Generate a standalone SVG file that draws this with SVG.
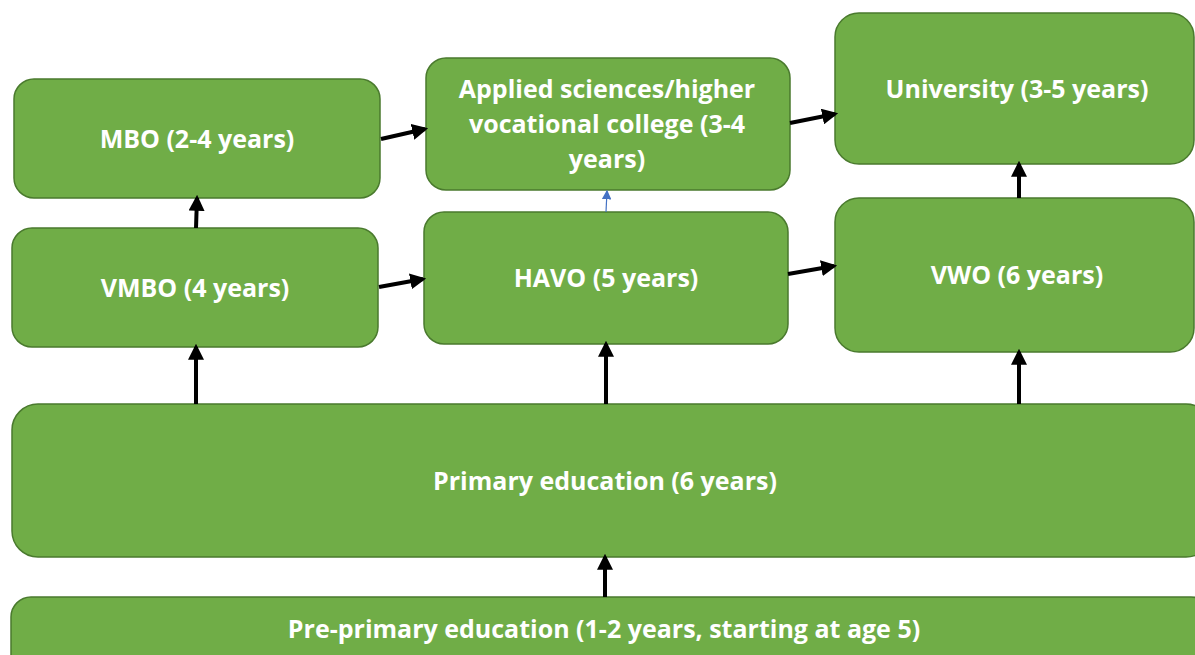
<svg xmlns="http://www.w3.org/2000/svg" width="1195" height="655" viewBox="0 0 1195 655">
<style>
.box{fill:#70AD47;stroke:#4a7a2e;stroke-width:1.5}
.t{font-family:"Open Sans","Noto Sans","Liberation Sans",sans-serif;font-weight:bold;font-size:25px;fill:#ffffff;text-anchor:middle}
.c{stroke:#000;stroke-width:4;fill:none;marker-end:url(#ah)}
.b{stroke:#4472C4;stroke-width:1.2;fill:none;marker-end:url(#bh)}
</style>
<defs>
<marker id="ah" markerWidth="4" markerHeight="4" refX="3.2" refY="2" orient="auto" markerUnits="strokeWidth" viewBox="0 0 4 4">
<path d="M0,0 L4,2 L0,4 Z" fill="#000"/>
</marker>
<marker id="bh" markerWidth="8" markerHeight="8" refX="7" refY="4" orient="auto" markerUnits="strokeWidth" viewBox="0 0 8 8">
<path d="M0,0 L8,4 L0,8 Z" fill="#4472C4"/>
</marker>
</defs>
<rect width="1195" height="655" fill="#ffffff"/>
<g id="mbo"><rect class="box" x="14" y="79" width="366" height="119" rx="20"/><text class="t" x="197" y="148">MBO (2-4 years)</text></g>
<g id="applied"><rect class="box" x="426" y="58" width="364" height="132" rx="20"/><text class="t" x="607" y="98">Applied sciences/higher</text><text class="t" x="607" y="133">vocational college (3-4</text><text class="t" x="607" y="168">years)</text></g>
<g id="university"><rect class="box" x="835" y="13" width="359" height="151" rx="24"/><text class="t" x="1017" y="98">University (3-5 years)</text></g>
<g id="vmbo"><rect class="box" x="12" y="228" width="366" height="119" rx="20"/><text class="t" x="195" y="297">VMBO (4 years)</text></g>
<g id="havo"><rect class="box" x="424" y="212" width="364" height="132" rx="20"/><text class="t" x="606" y="287">HAVO (5 years)</text></g>
<g id="vwo"><rect class="box" x="835" y="198" width="359" height="154" rx="24"/><text class="t" x="1017" y="284">VWO (6 years)</text></g>
<g id="primary"><rect class="box" x="12" y="404" width="1200" height="153" rx="26"/><text class="t" x="605" y="490">Primary education (6 years)</text></g>
<g id="preprimary"><rect class="box" x="11" y="597" width="1200" height="100" rx="20"/><text class="t" x="604" y="638">Pre-primary education (1-2 years, starting at age 5)</text></g>
<g id="connectors">
<line class="c" x1="381" y1="139" x2="425" y2="129"/>
<line class="c" x1="790" y1="123" x2="835" y2="114"/>
<line class="c" x1="379" y1="287" x2="423" y2="279"/>
<line class="c" x1="788" y1="274" x2="834" y2="266"/>
<line class="c" x1="196" y1="228" x2="197" y2="198"/>
<line class="c" x1="196" y1="404" x2="196" y2="347"/>
<line class="c" x1="606" y1="404" x2="606" y2="344"/>
<line class="c" x1="1019" y1="404" x2="1019" y2="352"/>
<line class="c" x1="1019" y1="198" x2="1019" y2="164"/>
<line class="c" x1="605" y1="597" x2="605" y2="557"/>
<line class="b" x1="606" y1="212" x2="607" y2="191"/>
</g>
</svg>
